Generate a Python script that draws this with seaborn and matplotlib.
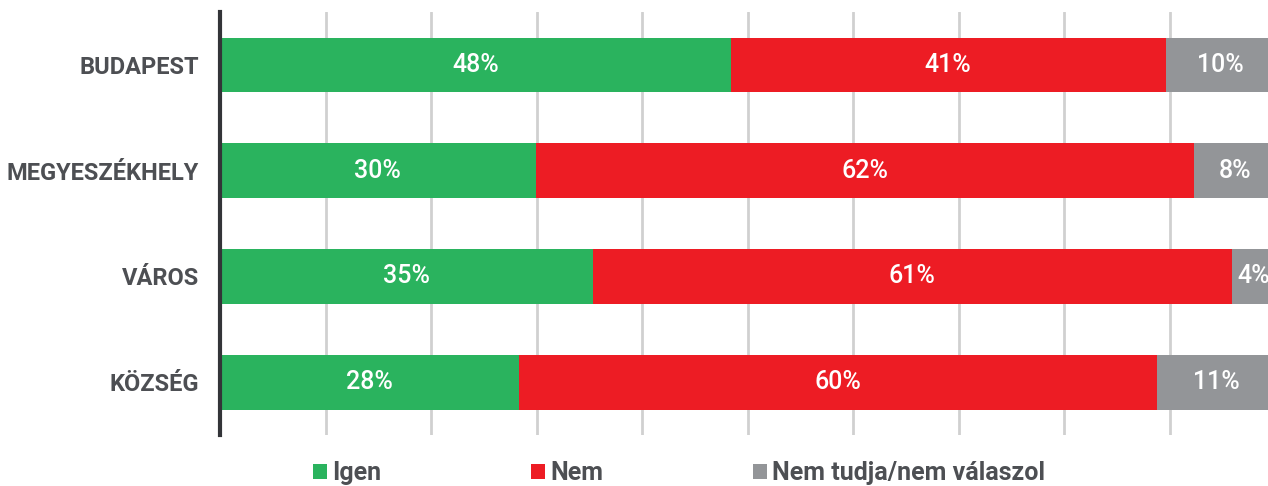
import matplotlib.pyplot as plt
import seaborn as sns
import numpy as np
import pandas as pd
from matplotlib.patches import Patch

# Adatok
kategoriak = ['BUDAPEST', 'MEGYESZÉKHELY', 'VÁROS', 'KÖZSÉG']
igen = [48.4, 29.9, 35.3, 28.3]
nem = [41.2, 62.4, 60.6, 60.5]
nem_tudja = [10.4, 7.7, 4.1, 11.2]
sorozatok = ['Igen', 'Nem', 'Nem tudja/nem válaszol']

szinek = ['#2ab35e', '#ed1c24', '#939598']
szoveg_szin = '#4d4f53'

sns.set_theme(style='white')
plt.rcParams['font.family'] = ['Roboto', 'DejaVu Sans']

df = pd.DataFrame({'kat': kategoriak, 'igen': igen, 'nem': nem, 'nt': nem_tudja})
df['c1'] = df['igen']
df['c2'] = df['igen'] + df['nem']
df['c3'] = df['c2'] + df['nt']

fig = plt.figure(figsize=(12.68, 4.86), dpi=100)
ax = fig.add_axes([220 / 1268, 0.105, 1 - 220 / 1268, 0.87])

# Halmozott oszlopok: a kumulált értékek egymásra rajzolva
for col, szin in zip(['c3', 'c2', 'c1'], szinek[::-1]):
    sns.barplot(data=df, x=col, y='kat', orient='h', color=szin,
                width=0.52, saturation=1, ax=ax, zorder=2, linewidth=0)

ax.set_xlim(0, 99.3)
ax.set_ylim(3.5, -0.5)
ax.set_xticks(np.arange(10, 100, 10))
ax.set_xticklabels([])
ax.xaxis.grid(True, color='#d0d0d0', linewidth=2)
ax.set_axisbelow(True)
ax.set_xlabel('')
ax.set_ylabel('')

for s in ['top', 'right', 'bottom']:
    ax.spines[s].set_visible(False)
ax.spines['left'].set_color('#333438')
ax.spines['left'].set_linewidth(3)
ax.tick_params(axis='y', length=0, pad=15)
ax.tick_params(axis='x', length=0)
for lbl in ax.get_yticklabels():
    lbl.set_fontsize(17)
    lbl.set_fontweight('bold')
    lbl.set_color(szoveg_szin)

# Értékcímkék
for i, row in df.iterrows():
    bal = 0
    for val in [row['igen'], row['nem'], row['nt']]:
        kozep = bal + val / 2
        ax.text(kozep, i, f'{round(val):d}%', ha='center', va='center',
                color='white', fontsize=18, fontweight='medium', zorder=3)
        bal += val

handles = [Patch(facecolor=c, edgecolor='none') for c in szinek]
leg = fig.legend(handles, sorozatok, loc='center left', ncol=3,
                 bbox_to_anchor=(313 / 1268, 1 - 473 / 486), frameon=False,
                 borderpad=0, borderaxespad=0,
                 handlelength=0.56, handleheight=0.56, handletextpad=0.2,
                 columnspacing=6.0, prop={'size': 18, 'weight': 'bold'})
for t in leg.get_texts():
    t.set_color(szoveg_szin)

fig.savefig('out.png', dpi=100)
